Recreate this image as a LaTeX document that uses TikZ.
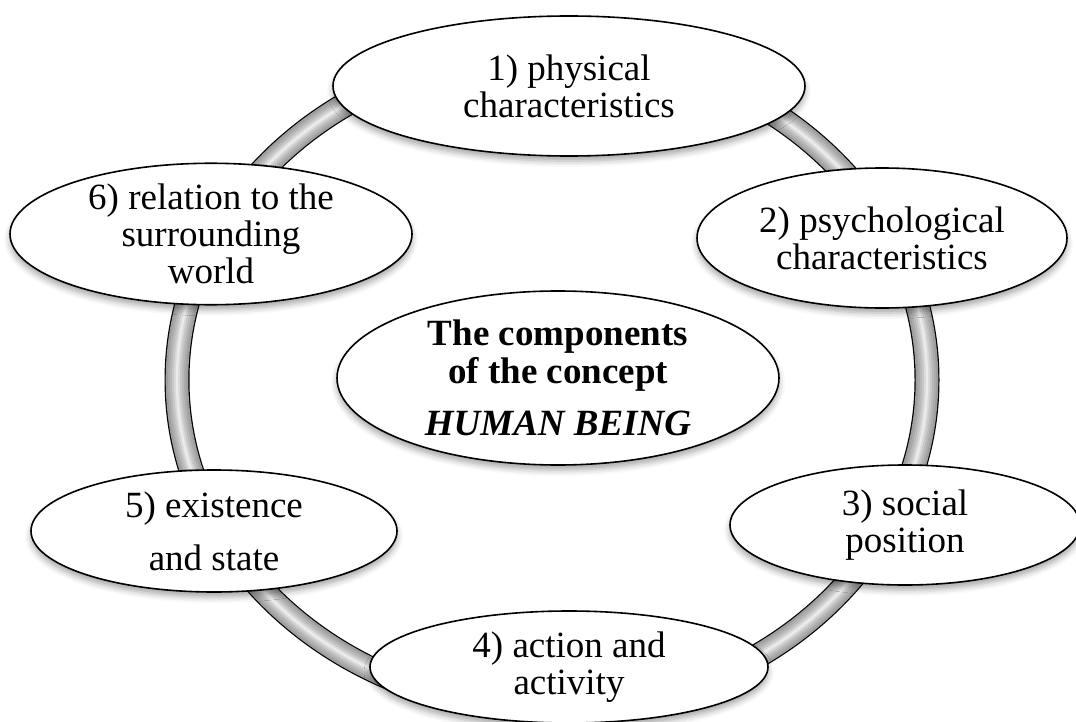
\documentclass[tikz,border=0pt]{standalone}
\usepackage{fontspec}
\setmainfont{Liberation Serif}
\usetikzlibrary{shapes.geometric,shadows.blur}

\begin{document}
\begin{tikzpicture}[x=0.5pt,y=-0.5pt,
		part/.style={ellipse,draw,line width=0.8pt,fill=white,inner sep=0pt,align=center,
			font=\fontsize{18.5}{18.5}\selectfont,
			blur shadow={shadow xshift=0pt,shadow yshift=-2.5pt,shadow blur radius=3pt,shadow opacity=35}}]
	\useasboundingbox (0,0) rectangle (1076,722);
	\coordinate (hub) at (552,380);
	\draw [line width=12.5pt] (hub) ellipse [x radius=375, y radius=330];
	\foreach \w/\c in {11.3pt/38,9pt/33,7pt/28,5pt/22,3pt/15,1.2pt/8}
		\draw [line width=\w, black!\c] (hub) ellipse [x radius=375, y radius=330];
	\node [part,minimum width=236pt,minimum height=70pt] (phys) at (569,86) {1) physical\\characteristics};
	\node [part,minimum width=185pt,minimum height=70pt] (psych) at (882,238) {2) psychological\\characteristics};
	\node [part,minimum width=175pt,minimum height=60pt] (social) at (905,525) {3) social\\position};
	\node [part,minimum width=199pt,minimum height=56pt] (action) at (569,667) {4) action and\\activity};
	\node [part,minimum width=183pt,minimum height=61pt] (exist) at (214,531) {5) existence\\[8pt]and state};
	\node [part,minimum width=201pt,minimum height=67pt] (world) at (211,234) {6) relation to the\\surrounding\\world};
	\node [part,minimum width=221pt,minimum height=87pt] (concept) at (558,378)
		{\textbf{The components}\\[0.5pt]\textbf{of the concept}\\[7.5pt]\textbf{\textit{HUMAN BEING}}};
\end{tikzpicture}
\end{document}
